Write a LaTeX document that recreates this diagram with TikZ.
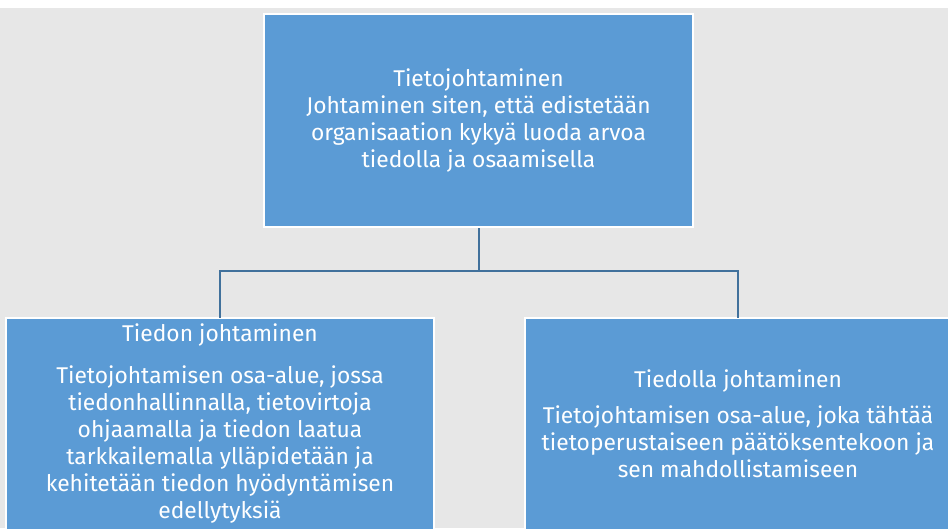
\documentclass[tikz,border=0pt]{standalone}
\usepackage{fontspec}
\setmainfont{Fira Sans}
\definecolor{bgc}{HTML}{E7E7E7}
\definecolor{boxc}{HTML}{5B9BD5}
\definecolor{linec}{HTML}{41719C}
\begin{document}
\begin{tikzpicture}[x=1pt,y=-1pt,
  box/.style={draw=white,line width=2pt,fill=boxc,text=white,align=center,inner sep=0pt,
    font=\fontsize{22.8}{27}\selectfont},
  conn/.style={draw=linec,line width=2.2pt}]
\useasboundingbox (0,0) rectangle (948,528);
\clip (0,0) rectangle (948,528);
\fill[white] (0,0) rectangle (948,528);
\fill[bgc] (0,8) rectangle (948,528);
\node[box,minimum width=429pt,minimum height=213pt,anchor=north west] (top) at (263,13)
  {Tietojohtaminen\\Johtaminen siten, että edistetään\\organisaation kykyä luoda arvoa\\tiedolla ja osaamisella};
\node[box,minimum width=428pt,minimum height=212pt,anchor=north west] (left) at (5,317)
  {Tiedon johtaminen\\[15pt]Tietojohtamisen osa-alue, jossa\\tiedonhallinnalla, tietovirtoja\\ohjaamalla ja tiedon laatua\\tarkkailemalla ylläpidetään ja\\kehitetään tiedon hyödyntämisen\\edellytyksiä};
\node[box,minimum width=426pt,minimum height=212pt,anchor=north west] (right) at (524,317)
  {Tiedolla johtaminen\\[9pt]Tietojohtamisen osa-alue, joka tähtää\\tietoperustaiseen päätöksentekoon ja\\sen mahdollistamiseen};
\coordinate (j) at (479,271);
\draw[conn] (top.south -| j) -- (j);
\draw[conn] (j) -| ([yshift=-1pt]left.north);
\draw[conn] (j) -| ([yshift=-1pt]right.north);
\end{tikzpicture}
\end{document}
